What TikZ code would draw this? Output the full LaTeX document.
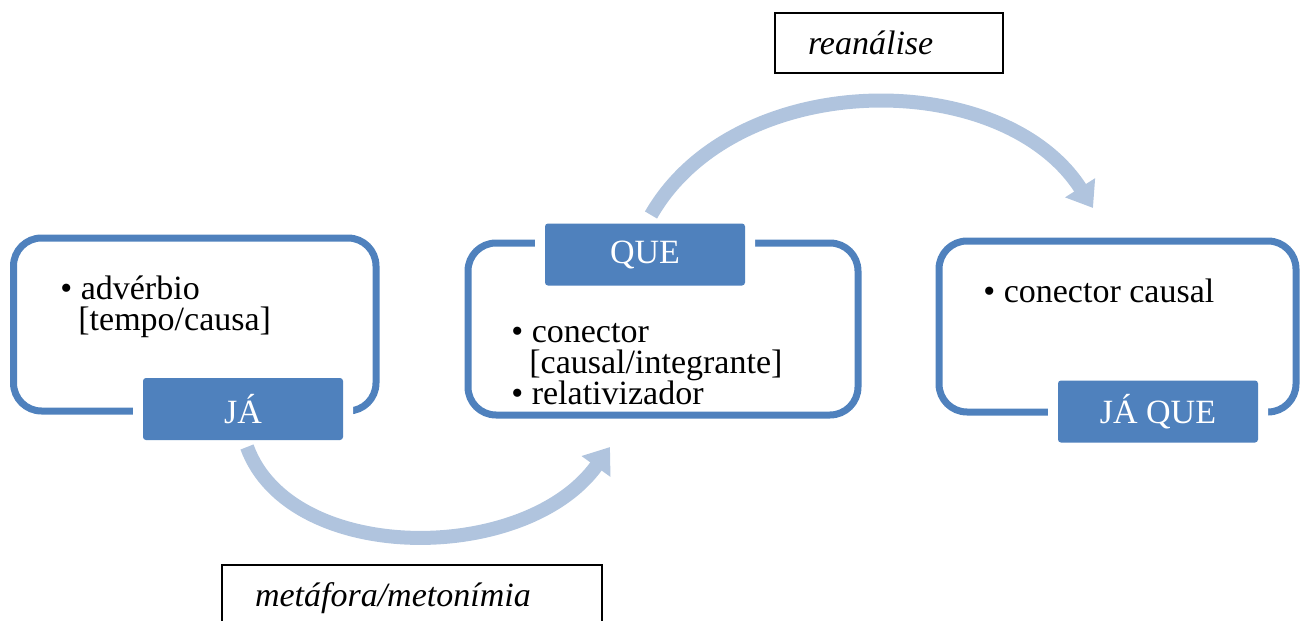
\documentclass[tikz,border=0pt]{standalone}
\usepackage{fontspec}
\setmainfont{Liberation Serif}
\usetikzlibrary{arrows.meta}

\definecolor{tagblue}{RGB}{79,129,189}
\definecolor{arcblue}{RGB}{176,196,222}

\tikzset{
    frame/.style={draw=tagblue, line width=3.5pt, rounded corners=14pt, inner sep=0pt},
    tag/.style={fill=tagblue, text=white, rounded corners=1.5pt, inner sep=0pt,
        minimum width=100pt, minimum height=31pt,
        preaction={draw=white, line width=10pt},
        font=\fontsize{17}{17}\selectfont},
    itemtxt/.style={align=left, inner sep=0pt, anchor=base west,
        font=\fontsize{17}{15.5}\selectfont},
    lbl/.style={draw=black, line width=1pt, inner xsep=16.5pt, align=left,
        font=\fontsize{17}{17}\selectfont\itshape},
    flow/.style={draw=arcblue, line width=7pt, -{Triangle[length=12pt, width=17pt]}}
}

\begin{document}
\begin{tikzpicture}[x=0.5pt, y=-0.5pt]
    \useasboundingbox (0,0) rectangle (1308,621);
    \clip (0,0) rectangle (1308,621);

    % three stages
    \node[frame, minimum width=181.25pt, minimum height=86.5pt] (b1) at (194.75,324.5) {};
    \node[frame, minimum width=195pt, minimum height=86pt] (b2) at (663,329) {};
    \node[frame, minimum width=178.5pt, minimum height=85.5pt] (b3) at (1117.5,326.5) {};

    \node[tag] (ja) at (243,409) {JÁ};
    \node[tag] (que) at (645,254.5) {QUE};
    \node[tag] (jaque) at (1158,411.5) {JÁ QUE};

    % base = last line
    \node[itemtxt] (t1) at (60,330) {• advérbio\\\hspace*{9pt}[tempo/causa]};
    \node[itemtxt] (t2) at (511,404) {• conector\\\hspace*{9pt}[causal/integrante]\\• relativizador};
    \node[itemtxt] (t3) at (983,302) {• conector causal};

    % processes
    \coordinate (m0) at (247,447);
    \coordinate (m1) at (610,447);
    \coordinate (r0) at (651,215);
    \coordinate (r1) at (1093,208);

    \draw[flow] (m0) .. controls (290,565) and (525,565) .. (m1);
    \draw[flow] (r0) .. controls (736,67) and (1003,67) .. (r1);

    \node[lbl, text width=81pt, minimum height=30pt] (rean) at (889,43) {reanálise};
    \node[lbl, text width=157pt, minimum height=33pt] (meta) at (412,598) {metáfora/metonímia};
\end{tikzpicture}
\end{document}
